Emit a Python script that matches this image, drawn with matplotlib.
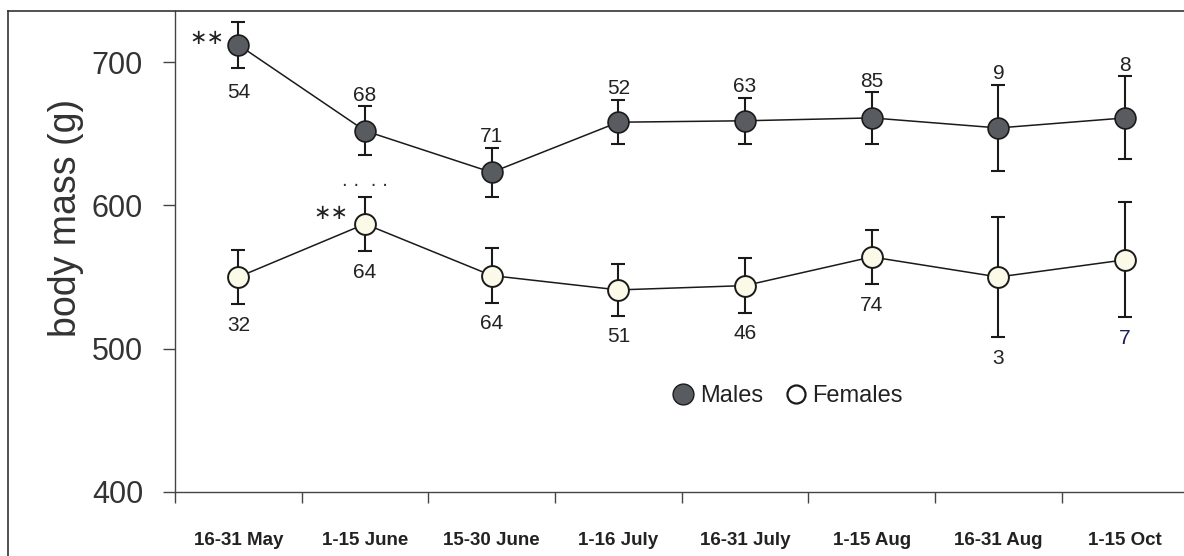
import matplotlib
matplotlib.use("Agg")
import matplotlib.pyplot as plt
from matplotlib.lines import Line2D

plt.rcParams["font.family"] = ["Liberation Sans", "DejaVu Sans"]

# periods on the x axis
periods = ["16-31 May", "1-15 June", "15-30 June", "1-16 July",
           "16-31 July", "1-15 Aug", "16-31 Aug", "1-15 Oct"]

# body mass (g), mean and error
males_mean = [712, 652, 623, 658, 659, 661, 654, 661]
males_err = [16, 17, 17, 15.5, 16, 18, 30, 29]
females_mean = [550, 587, 551, 541, 544, 564, 550, 562]
females_err = [19, 19, 19, 18, 19, 19, 42, 40]

# sample sizes
males_n = ["54", "68", "71", "52", "63", "85", "9", "8"]
females_n = ["32", "64", "64", "51", "46", "74", "3", "7"]
# which side of the point the sample size goes
males_n_above = [False, True, True, True, True, True, True, True]

fig = plt.figure(figsize=(11.84, 5.56), dpi=100)
ax = fig.add_axes([175 / 1184, 1 - 492 / 556, 1 - 175 / 1184, (492 - 11) / 556])

x = list(range(len(periods)))
txt_col = "#222222"

# error bars (drawn first, markers go on top)
ax.errorbar(x, males_mean, yerr=males_err, fmt="none", ecolor="#1a1a1a",
            elinewidth=1.5, capsize=5, capthick=1.5, zorder=2)
ax.errorbar(x, females_mean, yerr=females_err, fmt="none", ecolor="#1a1a1a",
            elinewidth=1.5, capsize=5, capthick=1.5, zorder=2)

# lines + markers
ax.plot(x, males_mean, color="#1a1a1a", lw=1.1, zorder=3, marker="o",
        markersize=15, markerfacecolor="#585c60", markeredgecolor="#1a1a1a",
        markeredgewidth=1.2)
ax.plot(x, females_mean, color="#1a1a1a", lw=1.1, zorder=3, marker="o",
        markersize=15, markerfacecolor="#fbf9e8", markeredgecolor="#1a1a1a",
        markeredgewidth=1.4)

# sample sizes
for i in x:
    if males_n_above[i]:
        ax.annotate(males_n[i], (i, males_mean[i] + males_err[i]),
                    xytext=(0, 4), textcoords="offset points",
                    ha="center", va="baseline", fontsize=15, color=txt_col)
    else:
        ax.annotate(males_n[i], (i, males_mean[i] - males_err[i]),
                    xytext=(0, -22), textcoords="offset points",
                    ha="center", va="baseline", fontsize=15, color=txt_col)
    col = "#1c1c5c" if i == len(x) - 1 else txt_col
    ax.annotate(females_n[i], (i, females_mean[i] - females_err[i]),
                xytext=(0, -19), textcoords="offset points",
                ha="center", va="baseline", fontsize=15, color=col)

# significance marks
star_font = ["DejaVu Sans"]
ax.annotate("∗∗", (0, males_mean[0]), xytext=(-10, 5), textcoords="offset points",
            ha="right", va="center", fontsize=15, color=txt_col, family=star_font)
ax.annotate("∗∗", (1, females_mean[1]), xytext=(-12, 8), textcoords="offset points",
            ha="right", va="center", fontsize=15, color=txt_col, family=star_font)
ax.annotate("· ·  · ·", (1, females_mean[1] + females_err[1]), xytext=(0, 1),
            textcoords="offset points", ha="center", va="bottom",
            fontsize=13, color="#333333", family=star_font)

# axes
ax.set_xlim(-0.5, 7.465)
ax.set_ylim(400, 700 + (62 - 11) / 1.433)
ax.spines["top"].set_visible(False)
ax.spines["right"].set_visible(False)
for s in ("left", "bottom"):
    ax.spines[s].set_color("#444444")
    ax.spines[s].set_linewidth(1.0)

ax.set_yticks([400, 500, 600, 700])
ax.tick_params(axis="y", length=9, width=1, color="#444444", pad=14,
               labelsize=22, labelcolor="#333333")
ax.set_xticks(x)
ax.set_xticklabels(periods, fontweight="bold", fontsize=13.5, color=txt_col)
ax.tick_params(axis="x", which="major", length=0, pad=29)
ax.set_xticks([i - 0.5 for i in x], minor=True)
ax.tick_params(axis="x", which="minor", length=8, width=1, color="#444444")

fig.text(66 / 1184, 1 - 218 / 556, "body mass (g)", rotation=90,
         ha="center", va="center", fontsize=27, color="#333333")

# legend
handles = [
    Line2D([], [], ls="none", marker="o", markersize=15,
           markerfacecolor="#585c60", markeredgecolor="#1a1a1a", label="Males"),
    Line2D([], [], ls="none", marker="o", markersize=13,
           markerfacecolor="white", markeredgecolor="#1a1a1a",
           markeredgewidth=1.6, label="Females"),
]
ax.legend(handles=handles, loc="center", bbox_to_anchor=(0.608, 0.2), ncol=2,
          frameon=False, fontsize=17, handlelength=0.8, handletextpad=0.3,
          columnspacing=1.0, labelcolor="#222222")

# figure border (top and left)
fig.add_artist(Line2D([8 / 1184, 1], [1 - 11 / 556, 1 - 11 / 556],
                      color="#333333", lw=1.2, transform=fig.transFigure))
fig.add_artist(Line2D([8 / 1184, 8 / 1184], [0, 1 - 11 / 556],
                      color="#333333", lw=1.2, transform=fig.transFigure))

fig.savefig("out.png", dpi=100)
